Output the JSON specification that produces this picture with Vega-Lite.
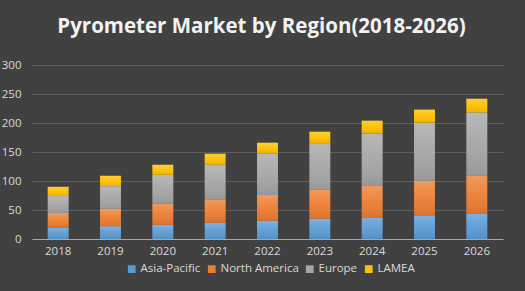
{
  "$schema": "https://vega.github.io/schema/vega-lite/v6.json",
  "width": 471,
  "height": 174,
  "autosize": "none",
  "padding": {"left": 32, "top": 65, "right": 22, "bottom": 52},
  "background": "#414141",
  "title": {
    "text": "Pyrometer Market by Region(2018-2026)",
    "font": "Open Sans",
    "fontSize": 20.5,
    "fontWeight": "bold",
    "color": "#f2f2f2",
    "anchor": "middle",
    "dx": -6,
    "offset": 22,
    "limit": 0
  },
  "datasets": {
    "regionOrder": [
      {"region": "Asia-Pacific", "rank": 1},
      {"region": "North America", "rank": 2},
      {"region": "Europe", "rank": 3},
      {"region": "LAMEA", "rank": 4}
    ]
  },
  "data": {
    "values": [
      {"year": "2018", "region": "Asia-Pacific", "value": 19.5},
      {"year": "2018", "region": "North America", "value": 25.5},
      {"year": "2018", "region": "Europe", "value": 29},
      {"year": "2018", "region": "LAMEA", "value": 16},
      {"year": "2019", "region": "Asia-Pacific", "value": 22},
      {"year": "2019", "region": "North America", "value": 30},
      {"year": "2019", "region": "Europe", "value": 39},
      {"year": "2019", "region": "LAMEA", "value": 18},
      {"year": "2020", "region": "Asia-Pacific", "value": 24.5},
      {"year": "2020", "region": "North America", "value": 36.5},
      {"year": "2020", "region": "Europe", "value": 49.8},
      {"year": "2020", "region": "LAMEA", "value": 17.2},
      {"year": "2021", "region": "Asia-Pacific", "value": 28},
      {"year": "2021", "region": "North America", "value": 40},
      {"year": "2021", "region": "Europe", "value": 60},
      {"year": "2021", "region": "LAMEA", "value": 19},
      {"year": "2022", "region": "Asia-Pacific", "value": 31.5},
      {"year": "2022", "region": "North America", "value": 44.5},
      {"year": "2022", "region": "Europe", "value": 71.6},
      {"year": "2022", "region": "LAMEA", "value": 18.4},
      {"year": "2023", "region": "Asia-Pacific", "value": 35},
      {"year": "2023", "region": "North America", "value": 50},
      {"year": "2023", "region": "Europe", "value": 80},
      {"year": "2023", "region": "LAMEA", "value": 20},
      {"year": "2024", "region": "Asia-Pacific", "value": 37},
      {"year": "2024", "region": "North America", "value": 55},
      {"year": "2024", "region": "Europe", "value": 90},
      {"year": "2024", "region": "LAMEA", "value": 22},
      {"year": "2025", "region": "Asia-Pacific", "value": 40.7},
      {"year": "2025", "region": "North America", "value": 59.8},
      {"year": "2025", "region": "Europe", "value": 100},
      {"year": "2025", "region": "LAMEA", "value": 22.5},
      {"year": "2026", "region": "Asia-Pacific", "value": 44},
      {"year": "2026", "region": "North America", "value": 65.6},
      {"year": "2026", "region": "Europe", "value": 108.4},
      {"year": "2026", "region": "LAMEA", "value": 24}
    ]
  },
  "transform": [
    {"lookup": "region", "from": {"data": {"name": "regionOrder"}, "key": "region", "fields": ["rank"]}}
  ],
  "encoding": {
    "x": {
      "field": "year",
      "type": "ordinal",
      "scale": {"paddingInner": 0.6, "paddingOuter": 0.3},
      "axis": {
        "title": null,
        "labelAngle": 0,
        "labelColor": "#d9d9d9",
        "labelFont": "Open Sans",
        "labelFontSize": 11.5,
        "labelPadding": 6,
        "ticks": false,
        "domainColor": "#a6a6a6",
        "domainWidth": 1
      }
    },
    "y": {
      "field": "value",
      "type": "quantitative",
      "stack": "zero",
      "scale": {"domain": [0, 300], "nice": false},
      "axis": {
        "title": null,
        "values": [0, 50, 100, 150, 200, 250, 300],
        "labelColor": "#d9d9d9",
        "labelFont": "Open Sans",
        "labelFontSize": 11.5,
        "labelPadding": 11,
        "ticks": false,
        "domain": false,
        "gridColor": "#5e5e5e",
        "gridWidth": 1
      }
    },
    "order": {"field": "rank", "type": "quantitative", "sort": "ascending"},
    "color": {
      "field": "region",
      "type": "nominal",
      "scale": {
        "domain": ["Asia-Pacific", "North America", "Europe", "LAMEA"],
        "range": ["#5b9bd5", "#ed7d31", "#a5a5a5", "#ffc000"]
      },
      "legend": {
        "title": null,
        "orient": "none",
        "direction": "horizontal",
        "legendX": 94,
        "legendY": 198,
        "symbolType": "square",
        "symbolSize": 60,
        "symbolStrokeWidth": 0,
        "labelColor": "#d9d9d9",
        "labelFont": "Open Sans",
        "labelFontSize": 11.5,
        "columnPadding": 5,
        "labelOffset": 3
      }
    }
  },
  "layer": [
    {"mark": {"type": "bar"}},
    {
      "mark": {"type": "bar"},
      "encoding": {
        "fill": {
          "value": {
            "gradient": "linear",
            "x1": 0, "y1": 0, "x2": 0, "y2": 1,
            "stops": [
              {"offset": 0, "color": "rgba(255,255,255,0.22)"},
              {"offset": 0.5, "color": "rgba(255,255,255,0.05)"},
              {"offset": 1, "color": "rgba(0,0,0,0.08)"}
            ]
          }
        }
      }
    }
  ],
  "config": {
    "view": {"stroke": null}
  }
}
